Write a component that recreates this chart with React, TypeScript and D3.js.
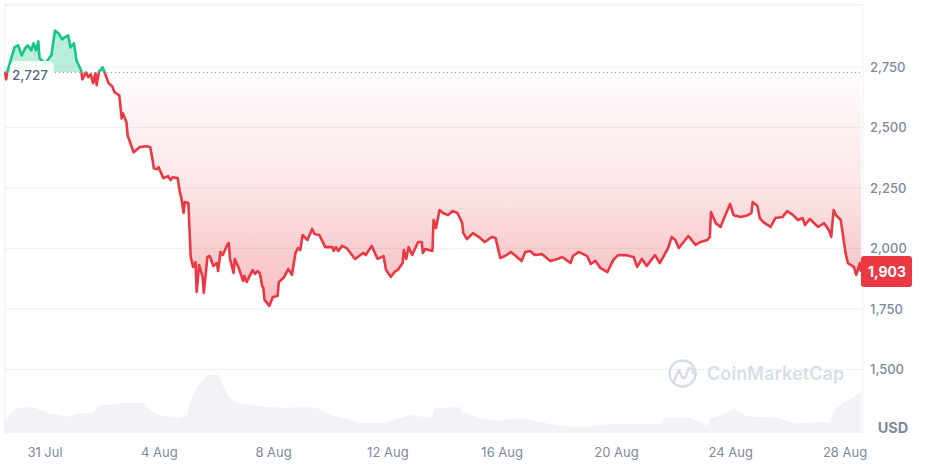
import React from "react";
import * as d3 from "d3";

const hours = [0,1,2,4,8,11,14,17,19,22,24,26,28,29,34,38,39,42,45,48,50,53,55,58,60,64,65,68,70,72,74,76,77,79,82,84,87,90,92,96,98,99,102,103,108,113,119,122,124,125,128,129,133,137,139,141,145,147,148,150,151,154,156,158,160,161,163,166,167,170,172,175,178,179,181,183,187,188,189,192,193,196,200,201,203,208,210,212,214,216,217,218,222,225,229,230,234,238,241,244,246,248,250,254,258,260,264,269,275,276,278,280,283,287,294,301,303,308,313,318,320,324,328,330,334,335,337,339,342,347,350,351,353,359,360,362,365,368,372,376,380,384,385,388,393,399,403,409,412,416,420,425,431,434,437,441,445,451,458,464,468,475,477,482,489,492,496,500,506,511,515,521,528,531,535,539,546,550,557,560,563,566,570,574,580,584,590,592,593,597,601,605,609,612,618,624,627,628,632,634,637,643,647,653,657,662,666,670,672,676,683,688,692,694,696,698,702,706,708,713,715,718,719];
const prices = [2731,2698,2731,2764,2830,2839,2797,2826,2839,2818,2847,2818,2855,2785,2764,2793,2797,2900,2888,2863,2872,2880,2830,2847,2777,2735,2698,2727,2707,2719,2682,2723,2674,2731,2748,2723,2682,2670,2645,2632,2537,2558,2521,2467,2397,2418,2422,2418,2364,2331,2327,2335,2290,2298,2282,2294,2290,2228,2212,2146,2191,2187,1964,1923,1943,1820,1931,1882,1816,1964,1968,1927,1939,1906,1985,1972,2018,2022,1956,1898,1956,1923,1865,1886,1861,1910,1894,1906,1898,1845,1836,1787,1762,1799,1803,1861,1878,1915,1890,1981,2001,1993,2055,2034,2080,2059,2055,2005,2005,1989,2005,1989,2010,2001,1956,1981,1972,2010,1956,1968,1911,1882,1906,1911,1939,1993,1956,2005,1972,2026,2026,1981,1997,1989,2117,2084,2158,2146,2137,2154,2146,2105,2063,2038,2063,2043,2026,2047,2043,1960,1968,1985,1960,1948,1985,1989,1972,1976,1948,1956,1964,1939,1968,1985,1968,1935,1948,1919,1902,1952,1972,1972,1964,1923,1956,1927,1972,1939,2001,2047,2034,2001,2026,2051,2014,2026,2034,2047,2150,2104,2088,2137,2183,2137,2129,2137,2146,2191,2175,2125,2108,2088,2125,2129,2154,2137,2117,2125,2096,2121,2088,2104,2076,2047,2158,2137,2117,1981,1939,1923,1890,1939,1903];

const volumeHours = [0,4,11,24,38,53,63,73,80,92,99,116,124,130,145,153,155,161,170,179,187,192,206,220,237,250,262,273,290,297,318,340,359,361,382,384,399,413,433,452,466,486,508,550,555,576,590,592,603,612,623,649,662,674,693,696,704,719];
const volumes = [1.8,3.3,4.2,4.3,3.2,2.7,3.3,3.3,4.7,4.7,5,5,3.5,3,2.5,3,5,7.5,9.7,9.8,6.3,5.2,4.7,4.3,4.2,4.3,4.2,3,2.2,1.7,1.7,3,2.5,4.2,4.3,3.5,2.5,2,2.5,1.7,1.2,1,1.5,1.5,2.5,2.5,1.2,2.5,3,4,2.8,2.5,1.7,1.7,1.8,3.8,5,6.7];

const priceTicks = [2750, 2500, 2250, 2000, 1750, 1500];
const dateTicks = ["31 Jul", "4 Aug", "8 Aug", "12 Aug", "16 Aug", "20 Aug", "24 Aug", "28 Aug"];
const dateTickHours = [33.6, 129.6, 225.6, 321.6, 417.6, 513.6, 609.6, 705.6];
const openPrice = 2727;
const lastPrice = 1903;

const W = 927, H = 465;
const FONT = "Inter, 'Open Sans', sans-serif";
const x = d3.scaleLinear().domain([0, 719]).range([5, 861]);
const y = d3.scaleLinear().domain([2000, 2750]).range([248.3, 66.8]);
const v = d3.scaleLinear().domain([0, 10]).range([433, 373]);
const series = hours.map((h, i) => ({ h, p: prices[i] }));
const volSeries = volumeHours.map((h, i) => ({ h, q: volumes[i] }));
const linePath = d3.line<any>().x(d => x(d.h)).y(d => y(d.p))(series)!;
const areaPath = d3.area<any>().x(d => x(d.h)).y0(y(openPrice)).y1(d => y(d.p))(series)!;
const volPath = d3.area<any>().x(d => x(d.h)).y0(v(0)).y1(d => v(d.q))(volSeries)!;
const base = y(openPrice);

export default function App() {
  return (
    <svg width={W} height={H} viewBox={`0 0 ${W} ${H}`} style={{ position: "absolute", left: 0, top: 0, display: "block", background: "#fff" }} fontFamily={FONT}>
      <defs>
        <linearGradient id="redFill" gradientUnits="userSpaceOnUse" x1="0" x2="0" y1={base} y2={306}>
          <stop offset="0" stopColor="#ea3943" stopOpacity="0.02" />
          <stop offset="0.33" stopColor="#ea3943" stopOpacity="0.09" />
          <stop offset="0.5" stopColor="#ea3943" stopOpacity="0.13" />
          <stop offset="0.72" stopColor="#ea3943" stopOpacity="0.23" />
          <stop offset="1" stopColor="#ea3943" stopOpacity="0.33" />
        </linearGradient>
        <clipPath id="above"><rect x={0} y={0} width={W} height={base} /></clipPath>
        <clipPath id="below"><rect x={0} y={base} width={W} height={H - base} /></clipPath>
      </defs>

      <rect x={4} y={4} width={859} height={1.6} fill="#eff2f5" />
      <rect x={4} y={4} width={1.2} height={429} fill="#eff2f5" />
      <rect x={862.5} y={4} width={1} height={429} fill="#eff2f5" />
      {priceTicks.map(t => (
        <line key={t} x1={5} x2={863} y1={y(t)} y2={y(t)} stroke="#eff2f5" strokeWidth={1.2} />
      ))}

      <path d={volPath} fill="#f1f3f6" />

      <path d={areaPath} fill="rgba(22,199,132,0.3)" clipPath="url(#above)" />
      <path d={areaPath} fill="url(#redFill)" clipPath="url(#below)" />
      <line x1={55} x2={863} y1={base} y2={base} stroke="#808a9d" strokeWidth={1} strokeDasharray="1 3" />
      <path d={linePath} fill="none" stroke="#16c784" strokeWidth={2.6} strokeLinejoin="round" clipPath="url(#above)" />
      <path d={linePath} fill="none" stroke="#ea3943" strokeWidth={2.6} strokeLinejoin="round" clipPath="url(#below)" />

      <rect x={10} y={61} width={44} height={21} rx={6} fill="#fff" fillOpacity={0.85} />
      <text x={12} y={80} fontSize={13.5} fontWeight={500} fill="#58667e">{d3.format(",")(openPrice)}</text>

      {priceTicks.map(t => (
        <text key={t} x={870} y={y(t) + 4.7} fontSize={13} fontWeight={500} fill="#808a9d">{d3.format(",")(t)}</text>
      ))}
      <rect x={861} y={256} width={51} height={31} rx={3} fill="#ea3943" />
      <text x={887} y={276.5} fontSize={14} fontWeight={700} fill="#fff" textAnchor="middle">{d3.format(",")(lastPrice)}</text>
      <text x={893} y={433} fontSize={14.5} fontWeight={700} fill="#808a9d" textAnchor="middle">USD</text>

      {dateTicks.map((t, i) => (
        <text key={t} x={x(dateTickHours[i])} y={457} fontSize={13} fontWeight={400} fill="#808a9d" textAnchor="middle">{t}</text>
      ))}

      <g fill="none" stroke="#d8dee9" strokeWidth={2.6} strokeLinecap="round" strokeLinejoin="round">
        <circle cx={682.5} cy={373.5} r={13} />
        <path d="M674 381 L679 370 L682 377 Q684 380 686 376 L688 370 Q692 365 693 373" />
      </g>
      <text x={707} y={380} fontSize={18} fontWeight={600} fill="#d8dee9" letterSpacing={0.1}>CoinMarketCap</text>
    </svg>
  );
}
